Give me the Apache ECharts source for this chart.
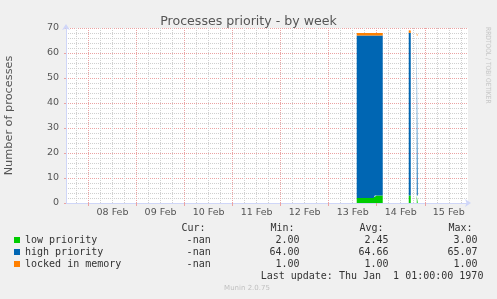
<!DOCTYPE html>
<html>
<head>
<meta charset="utf-8">
<script src="https://cdn.jsdelivr.net/npm/echarts@6/dist/echarts.min.js"></script>
<style>html,body{margin:0;padding:0;background:#F0F0F0;}#c{width:497px;height:299px;}</style>
</head>
<body>
<div id="c"></div>
<script>
// ---- data (x = hours since 08 Feb 00:00, one 30-minute sample per point; a null point marks the end of a run) ----
const seriesNames = ['low priority', 'high priority', 'locked in memory'];
const seriesColors = ['#00CC00', '#0066B3', '#FF8000'];
const times = [134,134.5,135,135.5,136,136.5,137,137.5,138,138.5,139,139.5,140,140.5,141,141.5,142,142.5,143,143.5,144,144.5,145,145.5,146,146.5,147,
               160,160.5,161,
               164,164.5];
const lowPriority = [2,2,2,2,2,2,2,2,2,2,2,2,2,2,2,2,2,2.5,3,3,3,3,3,3,3,3,null,
                     3,3,null,
                     3,null];
const highPriority = [65,65,65,65,65,65,65,65,65,65,65,65,65,65,65,65,65,64.5,64,64,64,64,64,64,64,64,null,
                      65.07,65,null,
                      64,null];
const lockedInMemory = [1,1,1,1,1,1,1,1,1,1,1,1,1,1,1,1,1,1,1,1,1,1,1,1,1,1,null,
                        1,1,null,
                        1,null];
const dayLabels = ['08 Feb','09 Feb','10 Feb','11 Feb','12 Feb','13 Feb','14 Feb','15 Feb'];
const labelHours = [12,36,60,84,108,132,156,180];
const midnightHours = [0,24,48,72,96,120,144,168];
const minorHours = [-6,6,12,18,30,36,42,54,60,66,78,84,90,102,108,114,126,132,138,150,156,162,174,180,186];
const yTicks = [0,10,20,30,40,50,60,70];
const statHeaders = ['Cur:', 'Min:', 'Avg:', 'Max:'];
const statCur = ['-nan', '-nan', '-nan'];
const statMin = ['2.00', '64.00', '1.00'];
const statAvg = ['2.45', '64.66', '1.00'];
const statMax = ['3.00', '65.07', '1.00'];
const lastUpdate = 'Last update: Thu Jan  1 01:00:00 1970';
const titleText = 'Processes priority - by week';
const yName = 'Number of processes';
const sideText = 'RRDTOOL / TOBI OETIKER';
const footer = 'Munin 2.0.75';

// ---- chart ----
const MAJOR = '#EBA3A3', MINOR = '#D0D0D0', AXIS = '#CFD6F8', TXT = '#555555';
const SANS = 'DejaVu Sans', MONO = 'DejaVu Sans Mono';
const valueLists = [lowPriority, highPriority, lockedInMemory];
const chart = echarts.init(document.getElementById('c'), null, {renderer: 'canvas'});

// value first so that the stack is computed on the value (y) dimension
const dataSeries = seriesNames.map((name, i) => ({
  name: name,
  type: 'line',
  stack: 'total',
  step: 'end',
  z: 10,
  showSymbol: false,
  symbol: 'none',
  connectNulls: false,
  color: seriesColors[i],
  lineStyle: {width: 0, color: seriesColors[i]},
  areaStyle: {color: seriesColors[i], opacity: 1},
  encode: {x: 1, y: 0},
  data: times.map((t, k) => [valueLists[i][k], t]),
  animation: false
}));

const gridSeries = {
  name: '_grid',
  type: 'line',
  data: [],
  z: 1,
  silent: true,
  animation: false,
  markLine: {
    z: 1,
    silent: true,
    symbol: ['none', 'none'],
    label: {show: false},
    animation: false,
    data: minorHours.map(h => ({xAxis: h, lineStyle: {color: MINOR, type: [1, 1], width: 1}}))
      .concat(midnightHours.map(h => ({xAxis: h, lineStyle: {color: MAJOR, type: [1, 1], width: 1}})))
  }
};

const statColsX = [210.7, 299.6, 388.6, 477.6];
const headerX = [205.5, 294.5, 383.5, 472.5];
const rowY = [240, 252, 264];
const graphics = [];
statHeaders.forEach((h, j) => graphics.push({type: 'text', x: headerX[j], y: 228.5, silent: true,
  style: {text: h, fontFamily: MONO, fontSize: 10, fill: '#333', align: 'right', textAlign: 'right', verticalAlign: 'middle', textVerticalAlign: 'middle'}}));
[statCur, statMin, statAvg, statMax].forEach((col, j) => col.forEach((v, r) => graphics.push({type: 'text', x: statColsX[j], y: rowY[r], silent: true,
  style: {text: v, fontFamily: MONO, fontSize: 10, fill: '#333', align: 'right', textAlign: 'right', verticalAlign: 'middle', textVerticalAlign: 'middle'}})));
graphics.push({type: 'text', x: 483.4, y: 276, silent: true,
  style: {text: lastUpdate, fontFamily: MONO, fontSize: 10, fill: '#333', align: 'right', textAlign: 'right', verticalAlign: 'middle', textVerticalAlign: 'middle'}});
graphics.push({type: 'text', x: 247, y: 288.5, silent: true,
  style: {text: footer, fontFamily: SANS, fontSize: 7, fill: '#C0C0C0', align: 'center', textAlign: 'center', verticalAlign: 'middle', textVerticalAlign: 'middle'}});
graphics.push({type: 'text', x: 488, y: 27, rotation: -Math.PI / 2, scaleX: 0.85, silent: true,
  style: {text: sideText, fontFamily: SANS, fontSize: 7, fill: '#C8C8C8', align: 'left', textAlign: 'left', verticalAlign: 'middle', textVerticalAlign: 'middle'}});

chart.setOption({
  animation: false,
  backgroundColor: '#F0F0F0',
  title: {
    text: titleText, left: 'center', top: 10,
    textStyle: {fontFamily: SANS, fontSize: 12.6, fontWeight: 'normal', color: TXT}
  },
  legend: {
    show: true, orient: 'vertical', left: 14, top: 234, padding: 0,
    itemWidth: 6, itemHeight: 6, itemGap: 0, icon: 'rect',
    data: seriesNames,
    selectedMode: false,
    textStyle: {fontFamily: MONO, fontSize: 10, color: '#333', lineHeight: 12}
  },
  grid: {left: 66, right: 29, top: 28, bottom: 96, show: true, backgroundColor: '#FFFFFF', borderWidth: 0,
         containLabel: false, outerBoundsMode: 'none'},
  xAxis: {
    type: 'value', min: -11.25, max: 189.6,
    axisLine: {show: true, onZero: false, lineStyle: {color: AXIS, width: 1}, symbol: ['none', 'arrow'], symbolSize: [6, 6], symbolOffset: [0, 3]},
    axisTick: {show: true, customValues: midnightHours, length: 3, inside: false, lineStyle: {color: MAJOR}},
    axisLabel: {show: true, customValues: labelHours, margin: 5, fontFamily: SANS, fontSize: 9.5, color: TXT,
      formatter: v => dayLabels[labelHours.indexOf(Math.round(v))] || ''},
    splitLine: {show: false},
    minorSplitLine: {show: false}
  },
  yAxis: {
    type: 'value', min: yTicks[0], max: yTicks[yTicks.length - 1], interval: 10,
    name: yName, nameLocation: 'middle', nameRotate: 90, nameGap: 51,
    nameTextStyle: {fontFamily: SANS, fontSize: 11.3, color: TXT},
    axisLine: {show: true, onZero: false, lineStyle: {color: AXIS, width: 1}, symbol: ['none', 'arrow'], symbolSize: [6, 6], symbolOffset: [0, 4]},
    axisTick: {show: true, length: 2, lineStyle: {color: MAJOR}},
    axisLabel: {margin: 7, fontFamily: SANS, fontSize: 9.5, color: TXT},
    splitLine: {show: true, lineStyle: {color: MAJOR, type: [1, 1], width: 1}},
    minorTick: {show: false, splitNumber: 5},
    minorSplitLine: {show: true, lineStyle: {color: MINOR, type: [1, 1], width: 1}}
  },
  graphic: graphics,
  series: [gridSeries].concat(dataSeries)
});
</script>
</body>
</html>
